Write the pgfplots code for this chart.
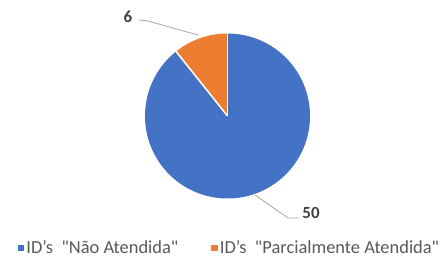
\documentclass[border=0pt]{standalone}
\usepackage{pgfplots}
\usepackage{pgfplotstable}
\pgfplotsset{compat=1.18}
\usepackage{fontspec}
\setmainfont{Carlito}
\definecolor{cblue}{HTML}{4472C4}
\definecolor{corange}{HTML}{ED7D31}
\definecolor{ctext}{HTML}{595959}
\definecolor{clab}{HTML}{404040}
\definecolor{cline}{HTML}{A6A6A6}
\pgfplotstableread{
label value
NaoAtendida 50
Parcial 6
}\piedata
\begin{document}
\begin{tikzpicture}
\pgfplotstablegetelem{0}{value}\of\piedata \let\va\pgfplotsretval
\pgfplotstablegetelem{1}{value}\of\piedata \let\vb\pgfplotsretval
\pgfmathsetmacro{\tot}{\va+\vb}
\pgfmathsetmacro{\ab}{90+360*\vb/\tot}
\begin{axis}[
  x=1bp, y=1bp, xmin=0, xmax=448, ymin=0, ymax=267,
  hide axis, clip=false, scale only axis,
  legend columns=2,
  legend style={at={(axis cs:230,19)}, anchor=center, draw=none, fill=none,
    font=\fontsize{18.5}{20}\selectfont\color{ctext}, column sep=0bp, inner sep=0pt,
    /tikz/every even column/.style={column sep=30bp},
    /pgfplots/legend image code/.code={\fill[##1] (0bp,-2.6bp) rectangle (5.2bp,2.6bp);},
    nodes={inner xsep=3bp}},
  legend cell align=left,
]
\path (axis cs:0,0) rectangle (axis cs:448,267);
\addlegendimage{cblue}
\addlegendentry{ID's\ \ \textquotedbl Não Atendida\textquotedbl}
\addlegendimage{corange}
\addlegendentry{ID's\ \ \textquotedbl Parcialmente Atendida\textquotedbl}
% blue slice
\fill[cblue] (axis cs:227.5,151) -- ++(\ab:82.5bp) arc[start angle=\ab, end angle=450, radius=82.5bp] -- cycle;
% orange slice
\fill[corange] (axis cs:227.5,151) -- ++(90:82.5bp) arc[start angle=90, end angle=\ab, radius=82.5bp] -- cycle;
% separators
\draw[white, line width=1.5bp] (axis cs:227.5,151) -- ++(90:82.5bp);
\draw[white, line width=1.5bp] (axis cs:227.5,151) -- ++(\ab:82.5bp);
% leader lines
\draw[cline, line width=0.8bp] (axis cs:139,247) -- (axis cs:148,246) -- (axis cs:198,232);
\draw[cline, line width=0.8bp] (axis cs:255,72) -- (axis cs:288,49) -- (axis cs:299,49);
% labels
\node[font=\fontsize{17}{19}\selectfont\bfseries, text=clab] at (axis cs:128,250) {6};
\node[font=\fontsize{17}{19}\selectfont\bfseries, text=clab] at (axis cs:311,54) {50};
\end{axis}
\end{tikzpicture}
\end{document}
